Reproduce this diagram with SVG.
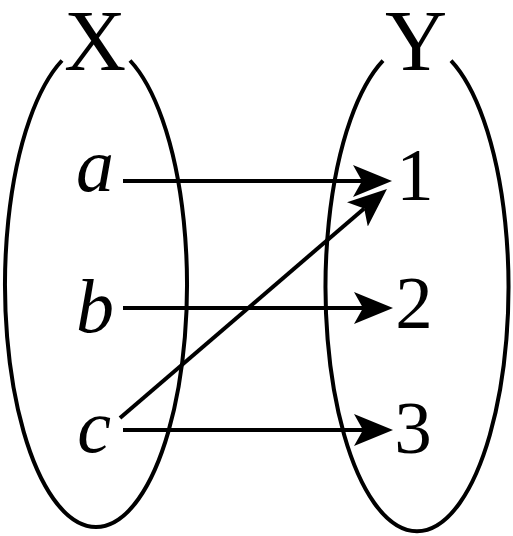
<svg xmlns="http://www.w3.org/2000/svg" width="513" height="536" viewBox="0 0 513 536">
<style>
.set{fill:none;stroke:#000;stroke-width:4;stroke-linecap:butt}
.edge{fill:none;stroke:#000;stroke-width:4;stroke-linecap:butt}
.lbl{font-family:"Liberation Serif","Times New Roman",serif;fill:#000;text-anchor:middle}
.title{font-size:86px}
.el{font-size:76px;font-style:italic}
.num{font-size:75px}
</style>
<defs>
<marker id="arr" viewBox="0 0 40 32" markerWidth="40" markerHeight="32" refX="9" refY="16" orient="auto" markerUnits="userSpaceOnUse">
<path d="M39 16 L0 0 L9 16 L0 32 Z" fill="#000"/>
</marker>
</defs>
<rect width="513" height="536" fill="#fff"/>
<g id="setX">
<path class="set" d="M62 60.5 A91 242 0 1 0 130 60.5"/>
<text class="lbl title" x="95" y="70">X</text>
</g>
<g id="setY">
<path class="set" d="M383 60.7 A91.5 244 0 1 0 451 60.7"/>
<text class="lbl title" x="416" y="70">Y</text>
</g>
<g id="node-a"><text class="lbl el" x="95" y="191">a</text></g>
<g id="node-b"><text class="lbl el" x="95" y="332">b</text></g>
<g id="node-c"><text class="lbl el" x="94" y="452">c</text></g>
<g id="node-1"><text class="lbl num" x="415" y="200">1</text></g>
<g id="node-2"><text class="lbl num" x="414" y="328">2</text></g>
<g id="node-3"><text class="lbl num" x="413" y="453">3</text></g>
<g id="connectors">
<line class="edge" x1="123" y1="181" x2="362" y2="181" marker-end="url(#arr)"/>
<line class="edge" x1="123" y1="308" x2="363" y2="308" marker-end="url(#arr)"/>
<line class="edge" x1="123" y1="430" x2="363" y2="430" marker-end="url(#arr)"/>
<line class="edge" x1="120" y1="418" x2="364.2" y2="208.5" marker-end="url(#arr)"/>
</g>
</svg>
